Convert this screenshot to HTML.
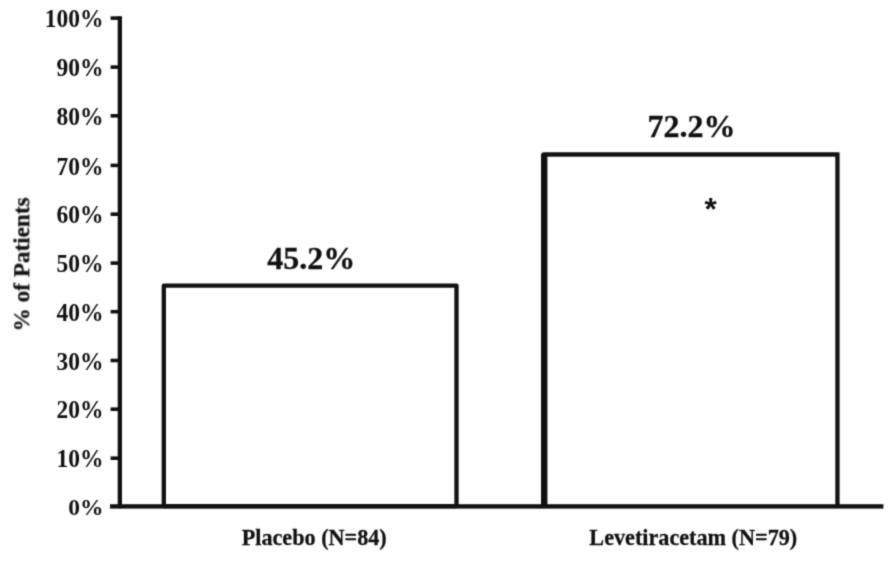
<!DOCTYPE html>
<html>
<head>
<meta charset="utf-8">
<title>% of Patients</title>
<style>
  html, body { margin: 0; padding: 0; background: #ffffff; }
  body { width: 893px; height: 562px; overflow: hidden; }
  svg { display: block; }
  text { font-family: "Liberation Serif", "Times New Roman", Times, serif; font-weight: bold; fill: #111111; }
  .tick text { font-size: 23.5px; text-anchor: end; }
  .cat { font-size: 22.2px; text-anchor: middle; stroke: #111111; stroke-width: 0.25px; }
  .val { font-size: 32px; text-anchor: middle; stroke: #111111; stroke-width: 0.3px; }
</style>
</head>
<body>
<svg width="893" height="562" viewBox="0 0 893 562">
  <defs>
    <filter id="soft" x="0" y="0" width="893" height="562" filterUnits="userSpaceOnUse" color-interpolation-filters="sRGB"><feConvolveMatrix order="3" kernelMatrix="1 4 1 4 16 4 1 4 1" divisor="36" edgeMode="duplicate" preserveAlpha="false"/></filter>
  </defs>
  <rect x="0" y="0" width="893" height="562" fill="#ffffff"/>
  <g filter="url(#soft)">
  <!-- bars -->
  <rect x="163.8" y="285.7" width="292.7" height="220.5" fill="#ffffff" stroke="#111111" stroke-width="4.3" stroke-linejoin="round"/>
  <path d="M541,506 V155.3 Q541,152.3 544,152.3 H838.8 Q839.6,152.3 839.6,153.1 V506 Z" fill="#111111"/>
  <rect x="547.4" y="156.7" width="287.9" height="349" fill="#ffffff"/>
  <!-- axes -->
  <rect x="117.7" y="16.2" width="4.3" height="492" fill="#111111"/>
  <rect x="110" y="504.2" width="773.4" height="4.4" fill="#111111"/>
  <!-- ticks -->
  <g fill="#111111">
    <rect x="110.6" y="16.3" width="9" height="3.6"/>
    <rect x="110.6" y="65.3" width="9" height="3.6"/>
    <rect x="110.6" y="114.0" width="9" height="3.6"/>
    <rect x="110.6" y="163.6" width="9" height="3.6"/>
    <rect x="110.6" y="212.4" width="9" height="3.6"/>
    <rect x="110.6" y="261.3" width="9" height="3.6"/>
    <rect x="110.6" y="309.9" width="9" height="3.6"/>
    <rect x="110.6" y="358.7" width="9" height="3.6"/>
    <rect x="110.6" y="407.4" width="9" height="3.6"/>
    <rect x="110.6" y="456.4" width="9" height="3.6"/>
  </g>
  <!-- tick labels -->
  <g class="tick">
    <text transform="translate(103.5,27.0) scale(1,1.03)">100%</text>
    <text transform="translate(103.4,76.2) scale(1,1.09)">90%</text>
    <text transform="translate(103.4,124.9) scale(1,1.09)">80%</text>
    <text transform="translate(103.4,174.5) scale(1,1.09)">70%</text>
    <text transform="translate(103.4,223.3) scale(1,1.09)">60%</text>
    <text transform="translate(103.4,272.2) scale(1,1.09)">50%</text>
    <text transform="translate(103.4,320.8) scale(1,1.09)">40%</text>
    <text transform="translate(103.4,369.6) scale(1,1.09)">30%</text>
    <text transform="translate(103.4,418.3) scale(1,1.09)">20%</text>
    <text transform="translate(103.4,467.3) scale(1,1.09)">10%</text>
    <text transform="translate(103.5,515.3) scale(1,1.0)">0%</text>
  </g>
  <!-- y axis title -->
  <text class="cat" style="font-size:23.2px" transform="translate(29.2,264.4) rotate(-90)" x="0" y="0">% of Patients</text>
  <!-- value labels -->
  <text class="val" x="311.2" y="268.5">45.2%</text>
  <text class="val" x="691.6" y="136.7">72.2%</text>
  <text transform="translate(710.5,220.3) scale(1,1.0)" font-size="31.5" text-anchor="middle" style="font-family:'Liberation Sans',Arial,sans-serif">*</text>
  <!-- category labels -->
  <text class="cat" transform="translate(314.2,544.8) scale(1,1.03)">Placebo (N=84)</text>
  <text class="cat" transform="translate(693.3,544.8) scale(1,1.03)">Levetiracetam (N=79)</text>
  </g>
</svg>
</body>
</html>
